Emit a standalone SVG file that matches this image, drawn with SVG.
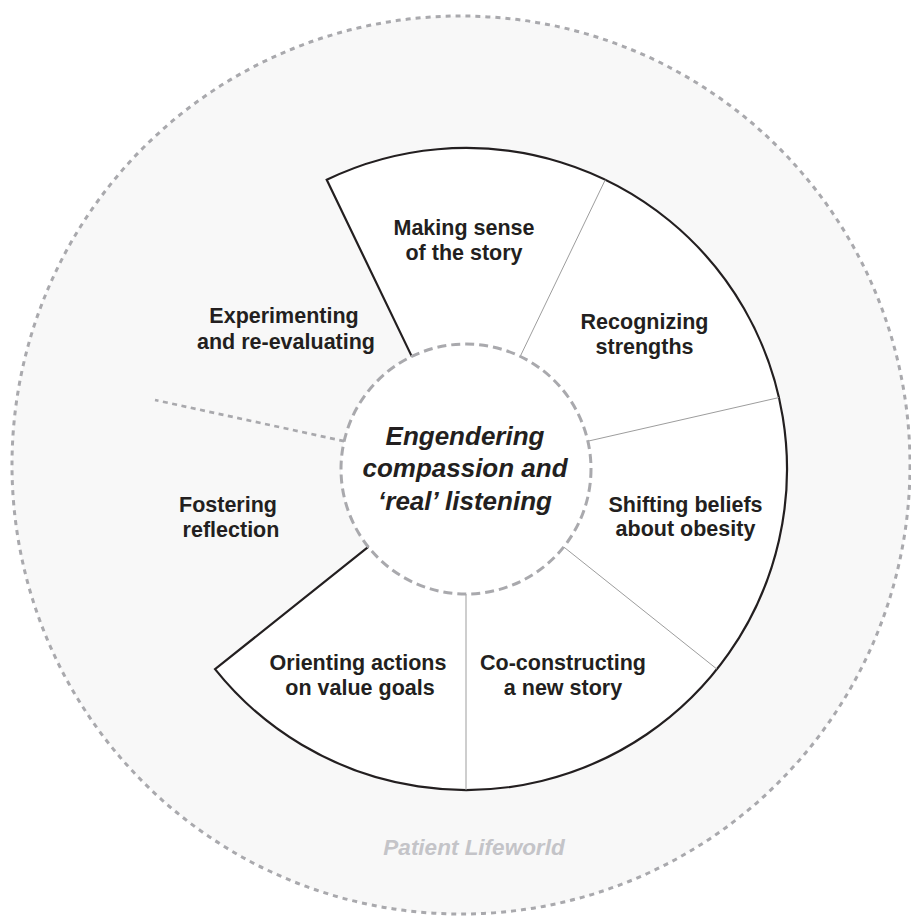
<svg xmlns="http://www.w3.org/2000/svg" width="911" height="920" viewBox="0 0 911 920">
<style>
.lbl{font-family:"Liberation Sans",Arial,Helvetica,sans-serif;font-weight:bold;font-size:21.5px;fill:#231f20;text-anchor:middle}
.ctr{font-family:"Liberation Sans",Arial,Helvetica,sans-serif;font-weight:bold;font-style:italic;font-size:26px;fill:#231f20;text-anchor:middle}
.world{font-family:"Liberation Sans",Arial,Helvetica,sans-serif;font-weight:bold;font-style:italic;font-size:22.5px;fill:#c4c4c8;text-anchor:middle}
.div{stroke:#9d9d9d;stroke-width:1;fill:none}
.dot{stroke:#a9a9ad;stroke-width:2.7;stroke-dasharray:5 4.5;fill:none}
</style>
<rect width="911" height="920" fill="#ffffff"/>
<g id="lifeworld">
<circle cx="461" cy="465" r="449" fill="#f8f8f8" stroke="#a9a9ad" stroke-width="3" stroke-dasharray="5 5"/>
<text class="world" x="474" y="855">Patient Lifeworld</text>
</g>
<g id="wheel">
<path d="M466 469 L326.72 179.79 A321 321 0 1 1 215.03 669.14 Z" fill="#ffffff"/>
<path d="M411.76 356.38 L326.72 179.79 A321 321 0 1 1 215.03 669.14 L368.27 546.94" fill="none" stroke="#231f20" stroke-width="2.2" stroke-linejoin="miter"/>
</g>
<g id="connectors">
<line class="div" x1="520.24" y1="356.38" x2="605.28" y2="179.79"/>
<line class="div" x1="587.87" y1="441.18" x2="778.95" y2="397.57"/>
<line class="div" x1="563.73" y1="546.94" x2="716.97" y2="669.14"/>
<line class="div" x1="466" y1="594" x2="466" y2="790"/>
<line class="dot" x1="344.13" y1="441.18" x2="155" y2="400"/>
</g>
<g id="center">
<circle cx="466" cy="469" r="125" fill="#ffffff" stroke="#a9a9ad" stroke-width="3" stroke-dasharray="9 5"/>
<text class="ctr" x="465" y="445">Engendering</text>
<text class="ctr" x="465" y="477">compassion and</text>
<text class="ctr" x="465" y="510">‘real’ listening</text>
</g>
<g id="making-sense">
<text class="lbl" x="464" y="235">Making sense</text>
<text class="lbl" x="464" y="260">of the story</text>
</g>
<g id="recognizing-strengths">
<text class="lbl" x="644.5" y="329">Recognizing</text>
<text class="lbl" x="644.5" y="354">strengths</text>
</g>
<g id="shifting-beliefs">
<text class="lbl" x="685.5" y="512">Shifting beliefs</text>
<text class="lbl" x="685.5" y="536">about obesity</text>
</g>
<g id="co-constructing">
<text class="lbl" x="563" y="670">Co-constructing</text>
<text class="lbl" x="563" y="695">a new story</text>
</g>
<g id="orienting-actions">
<text class="lbl" x="358" y="670">Orienting actions</text>
<text class="lbl" x="360" y="695">on value goals</text>
</g>
<g id="fostering-reflection">
<text class="lbl" x="228" y="512">Fostering</text>
<text class="lbl" x="231" y="537">reflection</text>
</g>
<g id="experimenting">
<text class="lbl" x="284" y="323">Experimenting</text>
<text class="lbl" x="286" y="349">and re-evaluating</text>
</g>
</svg>
